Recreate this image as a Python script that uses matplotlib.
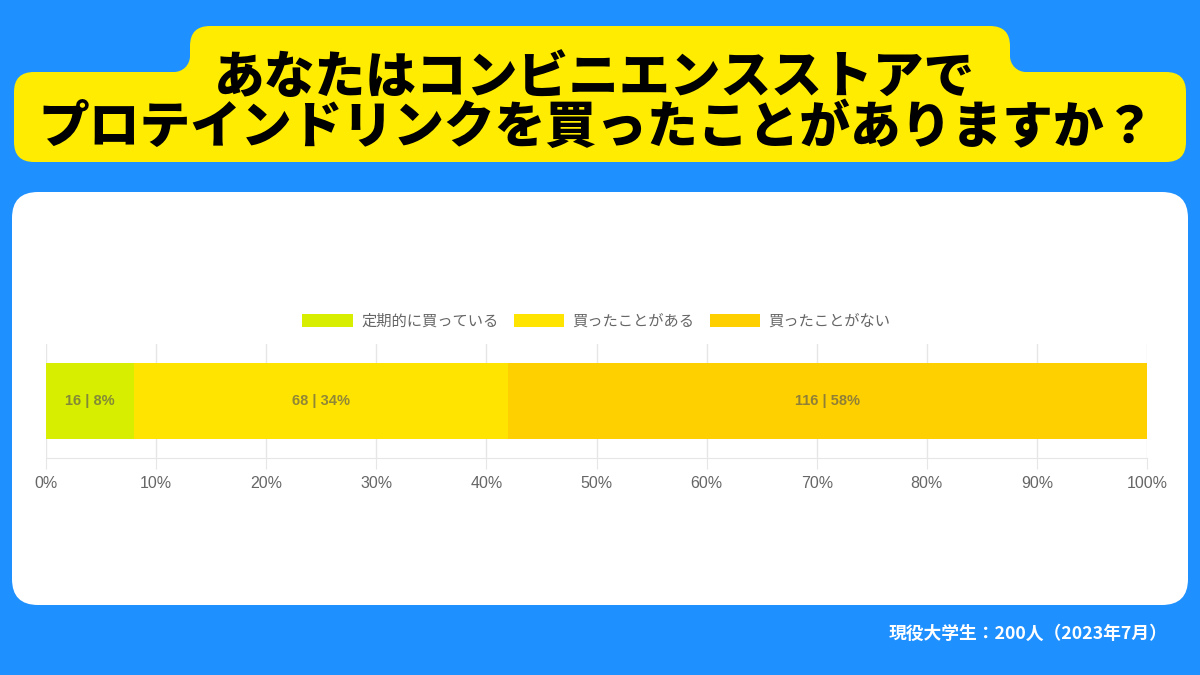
import matplotlib
matplotlib.use('Agg')
import matplotlib.pyplot as plt
from matplotlib.patches import FancyBboxPatch, Rectangle, Circle

plt.rcParams['font.family'] = ['Noto Sans CJK JP', 'DejaVu Sans']

title_lines = ['あなたはコンビニエンスストアで', 'プロテインドリンクを買ったことがありますか？']
categories = ['定期的に買っている', '買ったことがある', '買ったことがない']
counts = [16, 68, 116]
percents = [8, 34, 58]
colors = ['#d7ee00', '#ffe400', '#ffd000']
ticks = [0, 10, 20, 30, 40, 50, 60, 70, 80, 90, 100]
footer = '現役大学生：200人（2023年7月）'

BLUE = '#1e90ff'
YELLOW = '#ffec00'

fig = plt.figure(figsize=(12, 6.75), dpi=100)
fig.patch.set_facecolor(BLUE)

# background layer in pixel coords
bg = fig.add_axes([0, 0, 1, 1])
bg.set_xlim(0, 1200)
bg.set_ylim(675, 0)
bg.axis('off')

# yellow title banner: wide lower part + upper tab with concave fillets
bg.add_patch(FancyBboxPatch((14, 72), 1172, 90, boxstyle='round,pad=0,rounding_size=20',
                            fc=YELLOW, ec='none'))
bg.add_patch(FancyBboxPatch((190, 26), 820, 80, boxstyle='round,pad=0,rounding_size=20',
                            fc=YELLOW, ec='none'))
r = 16
bg.add_patch(Rectangle((190 - r, 72 - r), r, r, fc=YELLOW, ec='none'))
bg.add_patch(Circle((190 - r, 72 - r), r, fc=BLUE, ec='none'))
bg.add_patch(Rectangle((1010, 72 - r), r, r, fc=YELLOW, ec='none'))
bg.add_patch(Circle((1010 + r, 72 - r), r, fc=BLUE, ec='none'))

bg.text(594, 78, title_lines[0], ha='center', va='center', fontsize=36.5,
        fontweight='black', color='black')
bg.text(597, 128, title_lines[1], ha='center', va='center', fontsize=36.5,
        fontweight='black', color='black')

# white panel
bg.add_patch(FancyBboxPatch((12, 192), 1176, 413, boxstyle='round,pad=0,rounding_size=26',
                            fc='white', ec='none'))

bg.text(1168, 634, footer, ha='right', va='center', fontsize=12.8,
        fontweight='bold', color='white')

# stacked bar chart
ax = fig.add_axes([46 / 1200, (675 - 458) / 675, (1147 - 46) / 1200, 114 / 675])
ax.set_facecolor('none')
left = 0
handles = []
for cat, c, p, col in zip(categories, counts, percents, colors):
    h = ax.barh(0, p, left=left, height=0.675, color=col, label=cat, zorder=2)
    handles.append(h)
    ax.text(left + p / 2, 0, f'{c} | {p}%', ha='center', va='center', fontsize=10.5,
            fontweight='bold', color='#555555', alpha=0.65,
            family=['Liberation Sans', 'Noto Sans CJK JP'], zorder=3)
    left += p

ax.set_xlim(0, 100)
ax.set_ylim(-0.5, 0.5)
ax.set_xticks(ticks)
ax.set_xticklabels([f'{t}%' for t in ticks], fontsize=11.5, color='#666666',
                   family=['Liberation Sans', 'Noto Sans CJK JP'])
ax.set_yticks([])
ax.grid(axis='x', color='#e6e6e6', linewidth=1, zorder=0)
ax.tick_params(axis='x', length=8, color='#e6e6e6', pad=5)
for s in ['top', 'right', 'left']:
    ax.spines[s].set_visible(False)
ax.spines['bottom'].set_color('#e6e6e6')

ax.legend(handles=handles, loc='center', bbox_to_anchor=(0.5, (458 - 321) / 114),
          ncol=3, frameon=False, fontsize=11, labelcolor='#666666',
          handlelength=3.3, handleheight=0.9, handletextpad=0.55, columnspacing=1.0)

fig.savefig('out.png', dpi=100, facecolor=fig.get_facecolor())
